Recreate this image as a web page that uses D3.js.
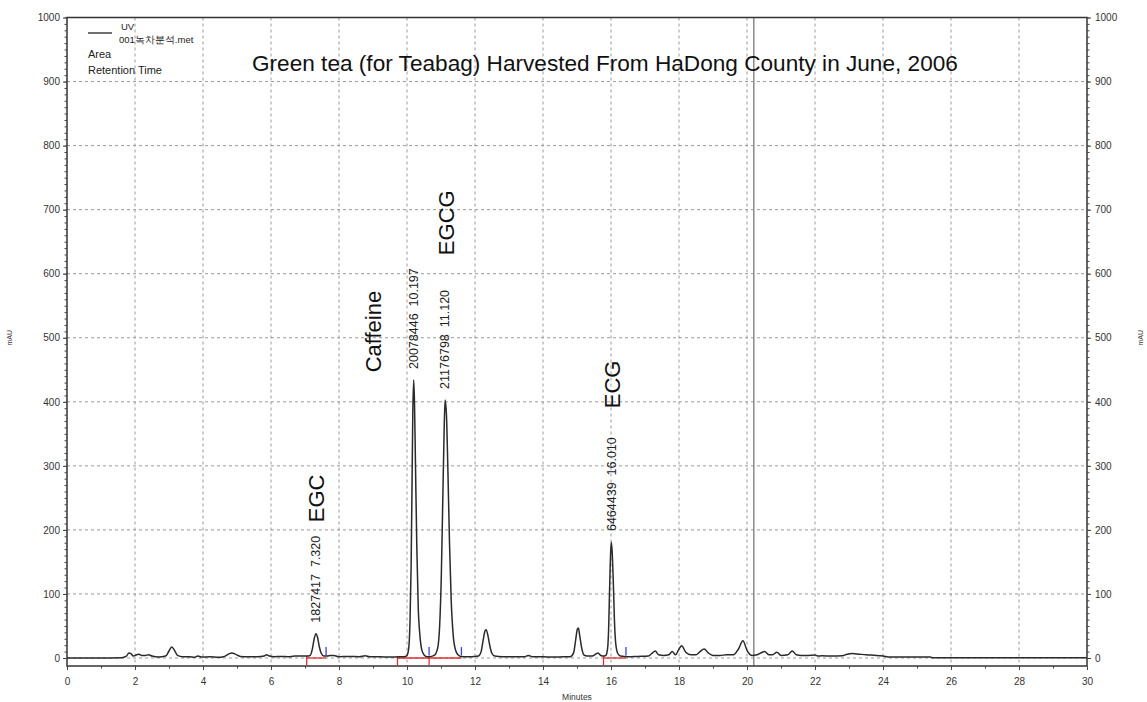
<!DOCTYPE html>
<html>
<head>
<meta charset="utf-8">
<script src="https://cdn.jsdelivr.net/npm/d3@7"></script>
<style>
  html, body { margin: 0; padding: 0; background: #fff; }
  svg { display: block; font-family: Arial, "Liberation Sans", sans-serif; }
</style>
</head>
<body>
<svg id="chart" width="1147" height="702"></svg>
<script>
// HPLC chromatogram of green tea extract (UV detector)
const titleText = "Green tea (for Teabag) Harvested From HaDong County in June, 2006";

// Detector trace: retention time (min) and absorbance (mAU)
const traceTime = [
  0, 1.0, 1.6, 1.75, 1.82, 1.88, 1.95, 2.05, 2.12, 2.2, 2.3, 2.4, 2.5, 2.7, 2.9, 3.0, 3.08, 3.15, 3.25, 3.4,
  3.6, 3.75, 3.85, 3.95, 4.2, 4.45, 4.6, 4.75, 4.85, 4.95, 5.1, 5.3, 5.6, 5.8, 5.87, 5.95, 6.1, 6.3, 6.5, 6.7,
  6.9, 7.05, 7.15, 7.22, 7.27, 7.32, 7.37, 7.42, 7.48, 7.55, 7.65, 7.75, 7.85, 7.95, 8.0, 8.3, 8.6, 8.77, 8.9, 9.2,
  9.5, 9.8, 9.95, 10.0, 10.05, 10.09, 10.12, 10.15, 10.17, 10.197, 10.22, 10.25, 10.29, 10.33, 10.38, 10.43, 10.5, 10.56, 10.65, 10.8,
  10.9, 10.96, 11.01, 11.05, 11.09, 11.12, 11.16, 11.2, 11.25, 11.3, 11.36, 11.43, 11.5, 11.58, 11.8, 12.0, 12.1, 12.18, 12.24, 12.3,
  12.33, 12.38, 12.44, 12.5, 12.58, 12.8, 13.2, 13.45, 13.57, 13.7, 14.0, 14.3, 14.6, 14.8, 14.9, 14.96, 15.01, 15.04, 15.08, 15.14,
  15.2, 15.3, 15.45, 15.55, 15.62, 15.7, 15.8, 15.85, 15.9, 15.93, 15.96, 15.99, 16.01, 16.04, 16.07, 16.1, 16.14, 16.2, 16.28, 16.5,
  16.8, 17.1, 17.2, 17.3, 17.4, 17.55, 17.7, 17.8, 17.9, 17.98, 18.08, 18.2, 18.35, 18.5, 18.62, 18.74, 18.86, 19.0, 19.2, 19.4,
  19.6, 19.75, 19.88, 20.0, 20.15, 20.3, 20.45, 20.52, 20.65, 20.75, 20.88, 21.0, 21.2, 21.33, 21.45, 21.6, 21.8, 22.0, 22.1, 22.2,
  22.5, 22.8, 22.95, 23.1, 23.3, 23.5, 23.8, 24.0, 24.2, 25.0, 25.4, 25.45, 30
];
const traceMAU = [
  0, 0, 0.5, 3, 8, 7, 3, 5, 6, 4, 4, 5, 3, 1.5, 3, 11, 17, 13, 4, 2,
  2, 1, 3, 1.5, 2, 1, 2, 6, 8, 6, 2.5, 2, 2, 3, 5, 3, 2, 2.5, 2, 3,
  3, 3, 4, 15, 30, 38, 32, 18, 7, 3, 3, 4, 4, 2.5, 2, 2.5, 2, 3.5, 2, 2,
  1.5, 2, 2.5, 4, 15, 60, 140, 280, 380, 434, 400, 300, 170, 80, 35, 14, 5, 2.5, 2, 4,
  15, 50, 130, 240, 350, 403, 380, 300, 180, 90, 35, 12, 5, 2.5, 2, 2.5, 3, 10, 28, 43,
  44, 35, 18, 7, 3, 2, 2, 2, 4, 2, 2, 1.5, 2, 2, 8, 28, 45, 47, 35, 15,
  5, 3, 3, 6, 8, 4, 3, 4, 15, 45, 110, 165, 181, 160, 115, 60, 22, 7, 3, 2,
  2.5, 3, 7, 11, 5, 4, 5, 10, 5, 12, 19, 9, 5, 5, 10, 14, 8, 4, 4, 5,
  5, 14, 27, 12, 4, 5, 9, 10, 5, 5, 9, 4, 5, 11, 5, 4, 4, 4.5, 3, 3.5,
  3, 3.5, 6, 7, 6, 5, 4, 3, 1.5, 1.5, 1.5, 0.3, 0.3
];

// Integrated peaks
const peakNames = ["EGC", "Caffeine", "EGCG", "ECG"];
const peakRT = [7.320, 10.197, 11.120, 16.010];
const peakArea = [1827417, 20078446, 21176798, 6464439];
const peakHeight = [38, 434, 403, 181];
// where each compound name sits (time, mAU of the name's lower end)
const nameAnchorTime = [7.32, 9.0, 11.15, 16.03];
const nameAnchorMAU = [212, 446, 629, 390];
// integration events (min)
const integStart = [7.05, 9.72, 10.65, 15.78];
const integEnd = [7.62, 10.65, 11.6, 16.44];

const xTicks = d3.range(0, 31, 2);
const yTicks = d3.range(0, 1001, 100);
const cursorTime = 20.2;

const svg = d3.select("#chart");
const x = d3.scaleLinear().domain([0, 30]).range([67, 1087]);
const y = d3.scaleLinear().domain([0, 1000]).range([658, 17.5]);
const frameTop = y(1000), frameBottom = y(0) + 8;
const left = x(0), right = x(30);

// grid
const grid = svg.append("g").attr("stroke", "#9a9a9a").attr("stroke-width", 1).attr("stroke-dasharray", "3,3");
grid.selectAll("line.v").data(xTicks.filter(d => d > 0 && d < 30)).join("line")
  .attr("x1", d => x(d)).attr("x2", d => x(d)).attr("y1", frameTop).attr("y2", frameBottom);
grid.selectAll("line.h").data(yTicks.filter(d => d < 1000)).join("line")
  .attr("x1", left).attr("x2", right).attr("y1", d => y(d)).attr("y2", d => y(d));

// cursor line
svg.append("line").attr("x1", x(cursorTime)).attr("x2", x(cursorTime))
  .attr("y1", frameTop).attr("y2", frameBottom).attr("stroke", "#8a8a8a").attr("stroke-width", 1.5);

// integration baselines and markers
const integ = svg.append("g");
const segs = [[integStart[0], integEnd[0]], [integStart[1], integEnd[2]], [integStart[3], integEnd[3]]];
integ.selectAll("line.base").data(segs).join("line")
  .attr("x1", d => x(d[0])).attr("x2", d => x(d[1])).attr("y1", y(0)).attr("y2", y(0))
  .attr("stroke", "#e03030").attr("stroke-width", 1.3);
integ.selectAll("line.start").data(integStart).join("line")
  .attr("x1", d => x(d)).attr("x2", d => x(d)).attr("y1", y(3)).attr("y2", y(0) + 7)
  .attr("stroke", "#e03030").attr("stroke-width", 1.3);
integ.selectAll("line.end").data(integEnd).join("line")
  .attr("x1", d => x(d)).attr("x2", d => x(d)).attr("y1", y(17)).attr("y2", y(4))
  .attr("stroke", "#3344dd").attr("stroke-width", 1.3);

// trace
const line = d3.line().x((d, i) => x(traceTime[i])).y(d => y(d)).curve(d3.curveMonotoneX);
svg.append("path").datum(traceMAU).attr("d", line)
  .attr("fill", "none").attr("stroke", "#2a2a2a").attr("stroke-width", 1.5).attr("stroke-linejoin", "round");

// frame
svg.append("rect").attr("x", left).attr("y", frameTop).attr("width", right - left).attr("height", frameBottom - frameTop)
  .attr("fill", "none").attr("stroke", "#333").attr("stroke-width", 1.5);

// axes
const fmt = d3.format("d");
const axL = svg.append("g").attr("transform", `translate(${left},0)`)
  .call(d3.axisLeft(y).tickValues(yTicks).tickSize(4).tickPadding(3).tickSizeOuter(0).tickFormat(fmt));
const axR = svg.append("g").attr("transform", `translate(${right},0)`)
  .call(d3.axisRight(y).tickValues(yTicks).tickSize(4).tickPadding(4).tickSizeOuter(0).tickFormat(fmt));
const axB = svg.append("g").attr("transform", `translate(0,${frameBottom})`)
  .call(d3.axisBottom(x).tickValues(xTicks).tickSize(4).tickPadding(8).tickSizeOuter(0).tickFormat(fmt));
// minor ticks
svg.append("g").attr("transform", `translate(${left},0)`)
  .call(d3.axisLeft(y).tickValues(d3.range(0, 1001, 10)).tickSize(2.5).tickFormat(""));
svg.append("g").attr("transform", `translate(${right},0)`)
  .call(d3.axisRight(y).tickValues(d3.range(0, 1001, 10)).tickSize(2.5).tickFormat(""));
svg.append("g").attr("transform", `translate(0,${frameBottom})`)
  .call(d3.axisBottom(x).tickValues(d3.range(0, 31, 1)).tickSize(2.5).tickFormat(""));
svg.selectAll(".domain").remove();
svg.selectAll(".tick line").attr("stroke", "#444");
[axL, axR, axB].forEach(a => a.selectAll("text").attr("font-size", 10).attr("fill", "#333")
  .attr("font-family", "Arial, 'Liberation Sans', sans-serif"));

// axis titles
svg.append("text").attr("x", (left + right) / 2).attr("y", 700).attr("text-anchor", "middle")
  .attr("font-size", 8.5).attr("fill", "#333").text("Minutes");
svg.append("text").attr("transform", `translate(12,${y(500)}) rotate(-90)`).attr("text-anchor", "middle")
  .attr("font-size", 7).attr("fill", "#333").text("mAU");
svg.append("text").attr("transform", `translate(1143,${y(500)}) rotate(-90)`).attr("text-anchor", "middle")
  .attr("font-size", 7).attr("fill", "#333").text("mAU");

// legend
const lg = svg.append("g").attr("fill", "#222");
lg.append("line").attr("x1", 88).attr("x2", 112).attr("y1", 33).attr("y2", 33).attr("stroke", "#222").attr("stroke-width", 1.3);
lg.append("text").attr("x", 121).attr("y", 29.5).attr("font-size", 9.5).text("UV");
lg.append("text").attr("x", 119).attr("y", 43).attr("font-size", 9.5).text("001녹차분석.met");
lg.append("text").attr("x", 88).attr("y", 58).attr("font-size", 11).text("Area");
lg.append("text").attr("x", 88).attr("y", 74).attr("font-size", 11).text("Retention Time");

// title, stretched to its measured span
const title = svg.append("text").attr("x", 252).attr("y", 71).attr("font-size", 20).attr("fill", "#111").text(titleText);
const tw = title.node().getComputedTextLength();
title.attr("font-size", 20 * 706 / tw);

// peak labels: area and retention time
const pk = svg.append("g").attr("fill", "#222");
pk.selectAll("text.val").data(peakRT).join("text")
  .attr("transform", (d, i) => `translate(${x(d)},${y(peakHeight[i]) - 11}) rotate(-90)`)
  .attr("dy", "0.35em").attr("font-size", 12.5).style("white-space", "pre")
  .text((d, i) => `${peakArea[i]}  ${d.toFixed(3)}`);
pk.selectAll("text.name").data(peakNames).join("text")
  .attr("transform", (d, i) => `translate(${x(nameAnchorTime[i])},${y(nameAnchorMAU[i])}) rotate(-90)`)
  .attr("dy", "0.35em").attr("font-size", 22).attr("fill", "#111")
  .text(d => d);
</script>
</body>
</html>
